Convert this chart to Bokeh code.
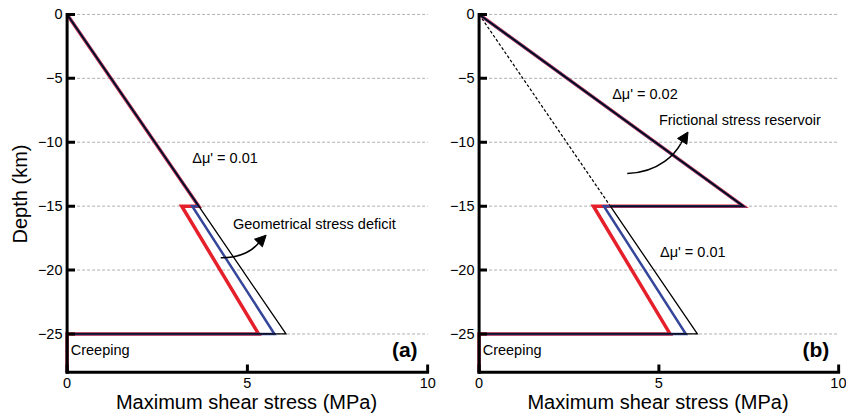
from bokeh.plotting import figure
from bokeh.layouts import gridplot
from bokeh.models import Range1d, FixedTicker, Arrow, NormalHead
from bokeh.core.properties import value
from bokeh.embed import file_html
from bokeh.resources import INLINE

# ---- data (MPa vs depth in km) ----
depth = [0, -15, -15, -25, -25, -28]

a_red = [0, 3.65, 3.18, 5.31, 0, 0]
a_blue = [0, 3.65, 3.47, 5.75, 0, 0]
a_black = [0, 3.65, 3.65, 6.07, 0, 0]

b_red = [0, 7.35, 3.18, 5.31, 0, 0]
b_blue = [0, 7.35, 3.47, 5.75, 0, 0]
b_black = [0, 7.35, 3.65, 6.07, 0, 0]

ref_x = [0, 3.65]
ref_y = [0, -15]

x_ticks = [0, 5, 10]
y_ticks = [0, -5, -10, -15, -20, -25]
y_tick_labels = ["0", "\u22125", "\u221210", "\u221215", "\u221220", "\u221225"]

# axis extent
X_MIN, X_MAX = 0, 10
Y_MIN, Y_MAX = -28, 0

RED = "#e5202b"
BLUE = "#36479b"
FONT = "Liberation Sans"

# styling (small paddings so the drawn spines sit fully inside the frame)
X_PAD_L, X_PAD_R = 0.1, 0.05
Y_PAD_B, Y_PAD_T = 0.25, 0.15
TICK_LEN_KM = 0.62
TICK_LEN_MPA = 0.22


def make_fig(width, left, right, ylabel):
    p = figure(width=width, height=419, output_backend="svg", toolbar_location=None,
               x_range=Range1d(X_MIN - X_PAD_L, X_MAX + X_PAD_R),
               y_range=Range1d(Y_MIN - Y_PAD_B, Y_MAX + Y_PAD_T),
               min_border_left=left, min_border_right=right,
               min_border_top=12, min_border_bottom=44)
    p.outline_line_color = None
    p.xgrid.visible = False
    p.ygrid.visible = False
    p.xaxis.ticker = FixedTicker(ticks=x_ticks)
    p.yaxis.ticker = FixedTicker(ticks=y_ticks)
    p.yaxis.major_label_overrides = {float(t): l for t, l in zip(y_ticks, y_tick_labels)}
    for ax in (p.xaxis, p.yaxis):
        ax.axis_line_color = None
        ax.major_tick_line_color = None
        ax.minor_tick_line_color = None
        ax.major_tick_in = 0
        ax.major_tick_out = 0
        ax.major_label_text_font = FONT
        ax.major_label_text_font_size = "14.5px"
        ax.major_label_text_color = "black"
        ax.axis_label_text_font = FONT
        ax.axis_label_text_font_size = "20px"
        ax.axis_label_text_font_style = "normal"
        ax.axis_label_text_color = "black"
    p.xaxis.major_label_standoff = 2
    p.yaxis.major_label_standoff = 1
    p.xaxis.axis_label = "Maximum shear stress (MPa)"
    p.xaxis.axis_label_standoff = 0
    if ylabel:
        p.yaxis.axis_label = "Depth (km)"
        p.yaxis.axis_label_standoff = 4

    # dashed horizontal gridlines from the tick list
    p.segment(x0=[X_MIN] * len(y_ticks), y0=y_ticks, x1=[X_MAX] * len(y_ticks), y1=y_ticks,
              line_color="#b0b0b0", line_width=1, line_dash="3 2")
    return p


def draw_frame(p):
    # spines
    p.segment(x0=[X_MIN, X_MIN], y0=[Y_MIN, Y_MIN], x1=[X_MIN, X_MAX], y1=[Y_MAX, Y_MIN],
              line_color="black", line_width=3, line_cap="square")
    # inward ticks
    p.segment(x0=x_ticks, y0=[Y_MIN] * len(x_ticks), x1=x_ticks,
              y1=[Y_MIN + TICK_LEN_KM] * len(x_ticks), line_color="black", line_width=3)
    p.segment(x0=[X_MIN] * len(y_ticks), y0=y_ticks, x1=[X_MIN + TICK_LEN_MPA] * len(y_ticks),
              y1=y_ticks, line_color="black", line_width=3)


def draw_profiles(p, red, blue, black):
    p.line(red, depth, line_color=RED, line_width=3.5, line_join="miter")
    p.line(blue, depth, line_color=BLUE, line_width=2.5, line_join="miter")
    p.line(black, depth, line_color="black", line_width=1.3, line_join="miter")


def label(p, x, y, txt, align="left", size="14.5px", style="normal"):
    p.text(x=[x], y=[y], text=[txt], text_font=value(FONT), text_font_size=size,
           text_font_style=style, text_align=align, text_baseline="middle",
           text_color="black", level="annotation")


def curved_arrow(p, x0, y0, cx0, cy0, cx1, cy1, x1, y1, tx, ty):
    p.bezier(x0=[x0], y0=[y0], x1=[x1], y1=[y1], cx0=[cx0], cy0=[cy0],
             cx1=[cx1], cy1=[cy1], line_color="black", line_width=1.5,
             level="annotation")
    p.add_layout(Arrow(end=NormalHead(size=11, fill_color="black", line_color="black"),
                       x_start=x1, y_start=y1, x_end=tx, y_end=ty,
                       line_color="black", line_width=1.5))


# ---- panel (a) ----
pa = make_fig(440, 63, 11, True)
draw_profiles(pa, a_red, a_blue, a_black)
draw_frame(pa)
label(pa, 3.47, -11.2, "\u0394\u03bc' = 0.01")
label(pa, 4.6, -16.4, "Geometrical stress deficit")
label(pa, 0.1, -26.25, "Creeping")
label(pa, 9.72, -26.2, "(a)", align="right", size="21px", style="bold")
curved_arrow(pa, 4.26, -19.04, 4.88, -19.06, 5.21, -18.28, 5.36, -17.73, 5.52, -17.27)

# ---- panel (b) ----
pb = make_fig(406, 35, 6, False)
pb.line(ref_x, ref_y, line_color="black", line_width=1.2, line_dash="3 2")
draw_profiles(pb, b_red, b_blue, b_black)
draw_frame(pb)
label(pb, 3.7, -6.2, "\u0394\u03bc' = 0.02")
label(pb, 5.0, -8.28, "Frictional stress reservoir")
label(pb, 5.03, -18.6, "\u0394\u03bc' = 0.01")
label(pb, 0.1, -26.25, "Creeping")
label(pb, 9.74, -26.2, "(b)", align="right", size="21px", style="bold")
curved_arrow(pb, 4.12, -12.45, 5.05, -12.34, 5.47, -10.8, 5.61, -10.1, 5.81, -9.2)

layout = gridplot([[pa, pb]], toolbar_location=None)
open("out.html", "w").write(file_html(layout, INLINE))
